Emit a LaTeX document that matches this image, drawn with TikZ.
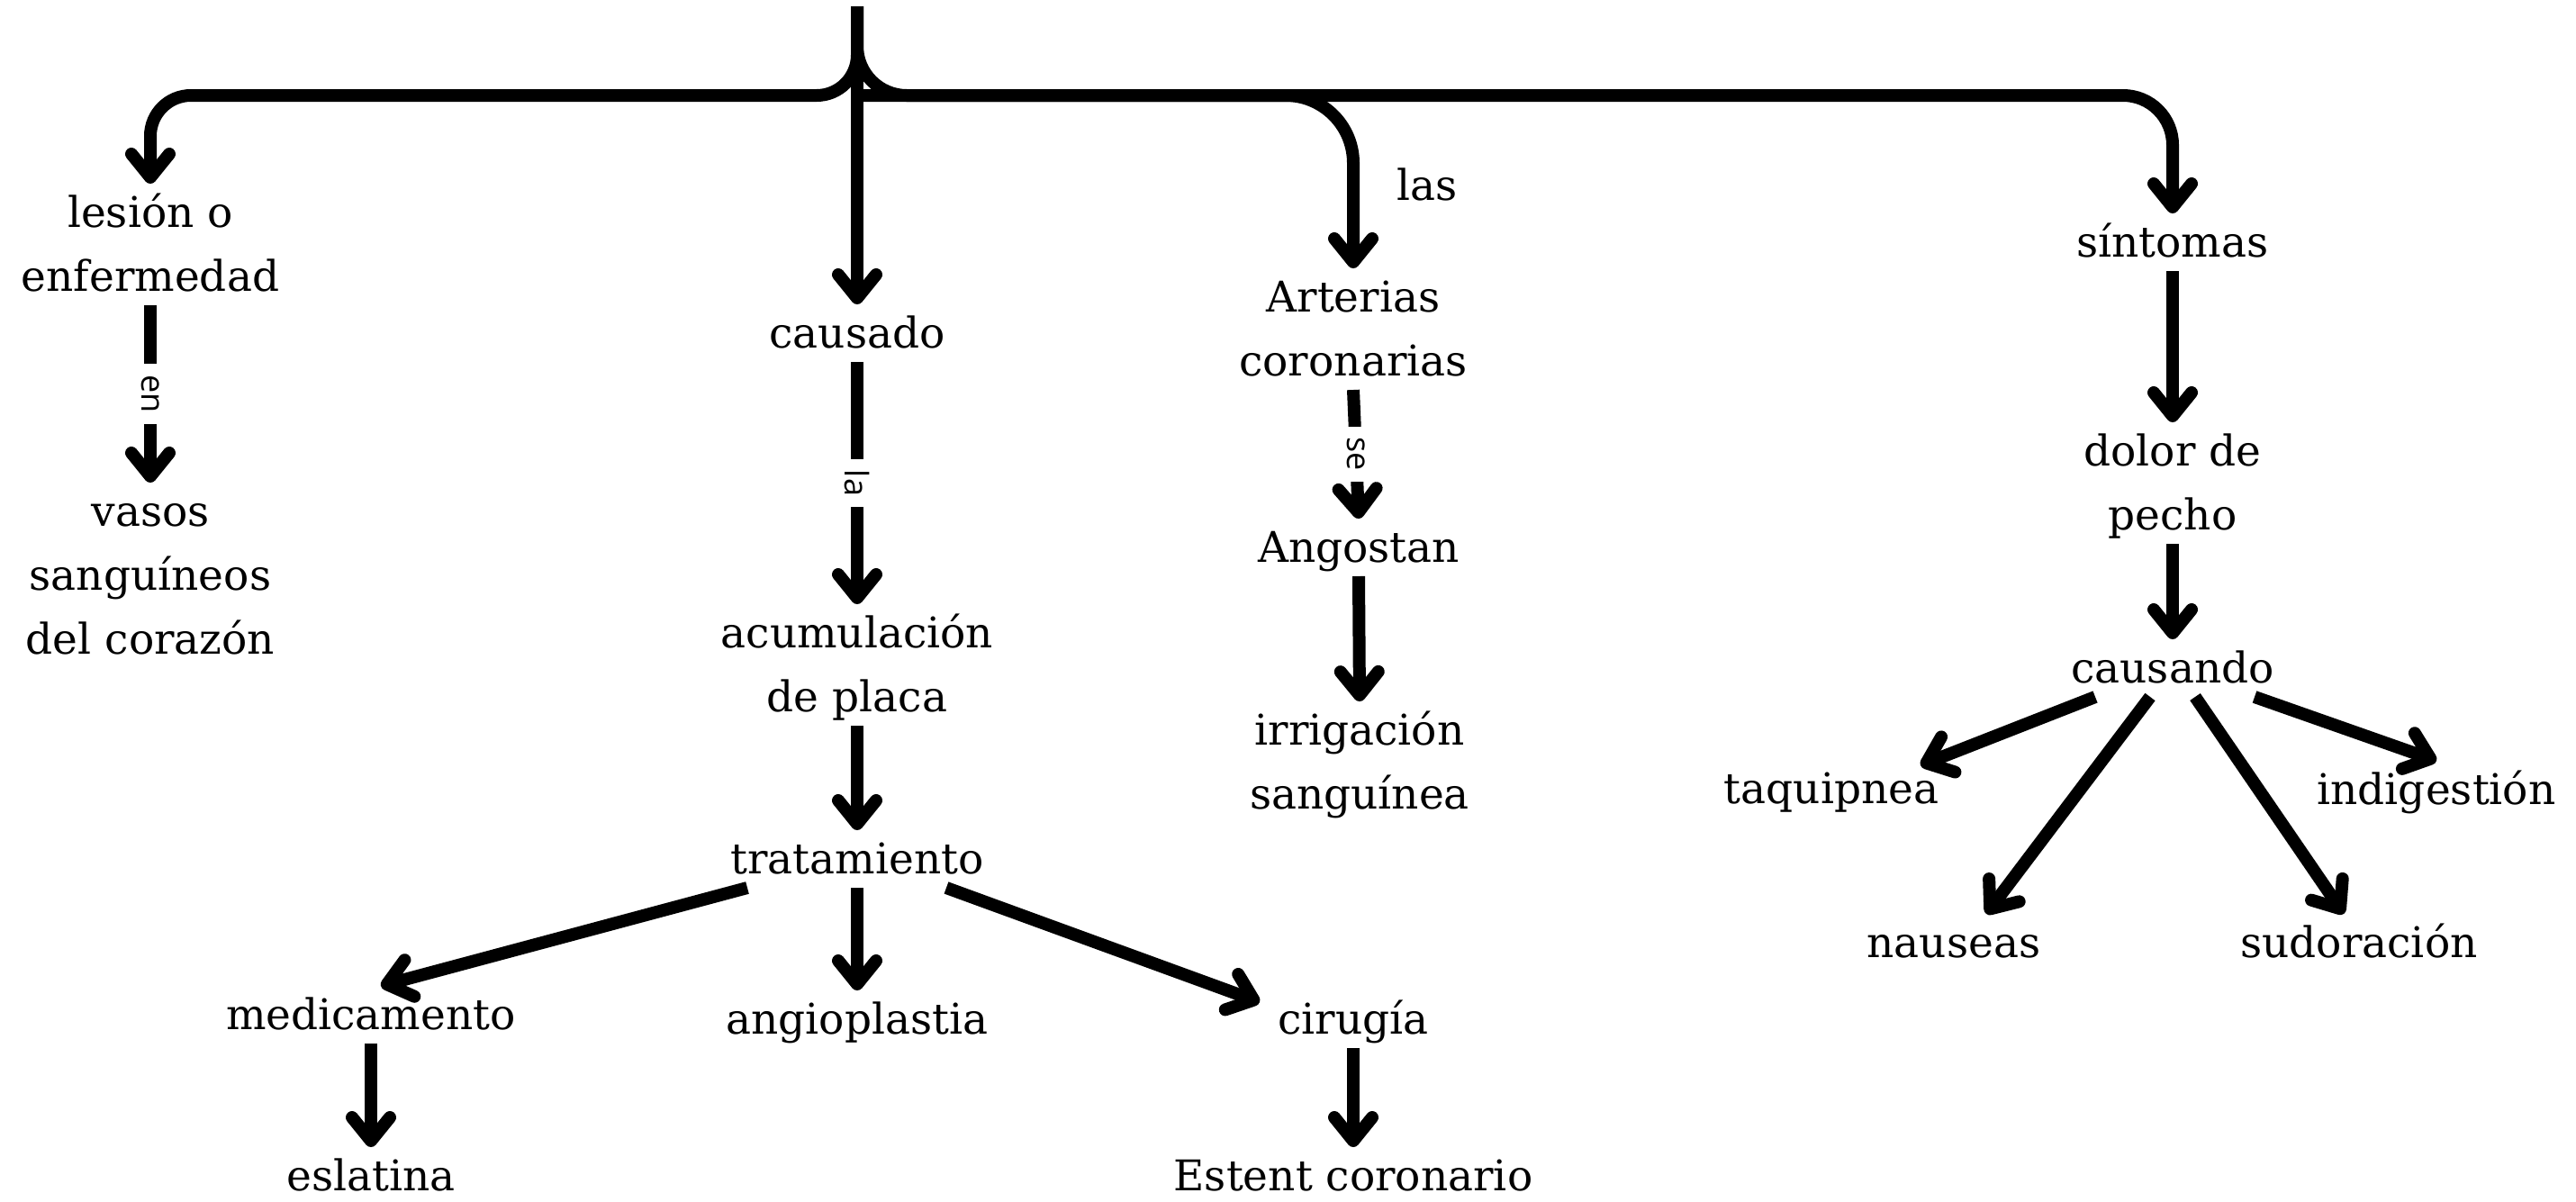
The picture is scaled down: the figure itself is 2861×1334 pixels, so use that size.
\documentclass[tikz,border=0pt]{standalone}
\usepackage{fontspec}
\setmainfont{DejaVu Serif}
\newfontfamily\lblfont{Open Sans}
\usetikzlibrary{arrows.meta,calc}
\begin{document}
\begin{tikzpicture}[x=1pt,y=1pt,
  txt/.style={anchor=base, inner sep=0pt, outer sep=0pt, align=center,
    font=\fontsize{47}{71}\selectfont, text height=48pt, text depth=16pt},
  two/.style={text height=119pt},
  three/.style={text height=190pt},
  conn/.style={line width=14pt, -{Straight Barb[length=26pt,width=42pt,round]}},
  lbl/.style={fill=white, rotate=-90, inner sep=12pt, font=\lblfont\fontsize{36}{36}\selectfont}
]
\fill[white] (0,0) rectangle (2861,-1334);
\useasboundingbox (0,0) rectangle (2861,-1334);

% nodes (anchored at the baseline of their last line)
\node[txt, two]   (lesion)   at (167,-323)  {lesión o\\enfermedad};
\node[txt, three] (vasos)    at (167,-726)  {vasos\\sanguíneos\\del corazón};
\node[txt]        (causado)  at (952,-386)  {causado};
\node[txt, two]   (acum)     at (952,-790)  {acumulación\\de placa};
\node[txt]        (trat)     at (952,-970)  {tratamiento};
\node[txt]        (medic)    at (412,-1143) {medicamento};
\node[txt]        (angio)    at (952,-1148) {angioplastia};
\node[txt]        (ciru)     at (1503,-1148) {cirugía};
\node[txt]        (eslat)    at (412,-1322) {eslatina};
\node[txt]        (estent)   at (1503,-1322) {Estent coronario};
\node[txt]        (las)      at (1585,-222) {las};
\node[txt, two]   (arter)    at (1503,-417) {Arterias\\coronarias};
\node[txt]        (angost)   at (1509,-624) {Angostan};
\node[txt, two]   (irrig)    at (1510,-898) {irrigación\\sanguínea};
\node[txt]        (sint)     at (2413,-285) {síntomas};
\node[txt, two]   (dolor)    at (2413,-588) {dolor de\\pecho};
\node[txt]        (causando) at (2413,-758) {causando};
\node[txt]        (taqui)    at (2034,-892) {taquipnea};
\node[txt]        (indig)    at (2706,-893) {indigestión};
\node[txt]        (naus)     at (2170,-1063) {nauseas};
\node[txt]        (sudor)    at (2620,-1063) {sudoración};

% top trunk
\coordinate (top) at (952,-7);
\coordinate (bar) at (952,-106);
\draw[conn, rounded corners=45pt] (top) -- (bar) -| (lesion.north);
\draw[conn, rounded corners=55pt] (top) -- (bar) -| (sint.north);
\draw[conn, rounded corners=75pt] (bar) -| (arter.north);
\draw[conn] (top) -- (causado.north);

% connectors
\draw[conn] (lesion.south) -- node[lbl]{en} (vasos.north);
\draw[conn] (causado.south) -- node[lbl]{la} (acum.north);
\draw[conn] (acum.south) -- (trat.north);
\draw[conn] ($(trat.south)+(-122,0)$) -- ($(medic.north)+(11,0)$);
\draw[conn] (trat.south) -- (angio.north);
\draw[conn] ($(trat.south)+(99,0)$) -- ($(ciru.north)+(-104,-13)$);
\draw[conn] (medic.south) -- (eslat.north);
\draw[conn] (ciru.south) -- (estent.north);
\draw[conn] (arter.south) -- node[lbl]{se} (angost.north);
\draw[conn] (angost.south) -- (irrig.north);
\draw[conn] (sint.south) -- (dolor.north);
\draw[conn] (dolor.south) -- (causando.north);
\draw[conn] ($(causando.south)+(-86,0)$) -- ($(taqui.north)+(99,-6)$);
\draw[conn] ($(causando.south)+(-25,0)$) -- ($(naus.north)+(36,0)$);
\draw[conn] ($(causando.south)+(25,0)$) -- ($(sudor.north)+(-17,0)$);
\draw[conn] ($(causando.south)+(91,0)$) -- (indig.north);
\end{tikzpicture}
\end{document}
